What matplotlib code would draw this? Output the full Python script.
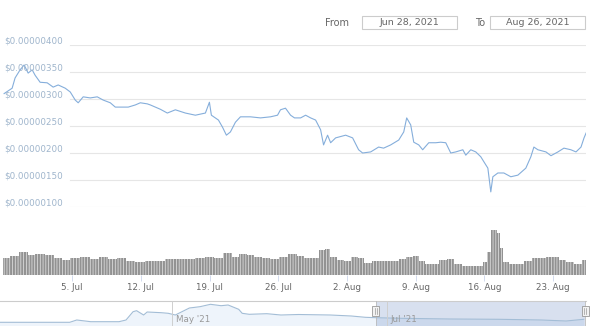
import numpy as np
import pandas as pd
import matplotlib
matplotlib.use("Agg")
import matplotlib.pyplot as plt
import matplotlib.dates as mdates
import matplotlib.transforms as mtransforms
from matplotlib.patches import Rectangle

# ---- data (prices in units of 1e-8 USD, time as days after start) ----
START = pd.Timestamp("2021-06-28")
END = pd.Timestamp("2021-08-26")

price_days = [0.07, 0.89, 1.19, 1.70, 2.11, 2.52, 2.93, 3.23, 3.74, 4.46, 5.07, 5.58,
              6.30, 6.81, 7.32, 7.62, 8.13, 8.85, 9.56, 10.17, 10.89, 11.40, 11.91,
              12.72, 13.44, 13.95, 14.66, 14.97, 15.99, 16.70, 17.52, 18.54, 19.56,
              20.58, 20.99, 21.19, 21.91, 22.32, 22.72, 23.13, 23.64, 24.15, 25.17,
              26.19, 27.21, 27.93, 28.23, 28.74, 29.26, 29.66, 30.28, 30.79, 31.30,
              31.81, 32.32, 32.62, 33.03, 33.34, 33.85, 34.87, 35.58, 36.19, 36.60,
              37.42, 38.23, 38.74, 39.46, 40.28, 40.79, 41.09, 41.50, 41.81, 42.32,
              42.72, 43.34, 44.05, 44.56, 45.07, 45.58, 46.09, 46.81, 47.11, 47.62,
              48.13, 48.64, 49.05, 49.36, 49.66, 49.87, 50.38, 50.99, 51.70, 52.42,
              53.23, 53.74, 54.05, 54.46, 55.28, 55.79, 56.50, 57.11, 57.82, 58.34,
              58.85, 59.16, 59.37]
price = [310, 320, 339, 354, 363, 348, 354, 344, 331, 330, 322, 326,
         320, 313, 298, 293, 304, 302, 304, 298, 293, 285, 285,
         285, 289, 293, 291, 289, 281, 274, 280, 274, 270,
         274, 294, 270, 261, 248, 233, 239, 257, 267, 267,
         265, 267, 270, 280, 283, 270, 265, 265, 270, 265,
         261, 243, 215, 233, 219, 228, 233, 228, 206, 200,
         202, 211, 209, 215, 224, 239, 265, 252, 220, 215,
         206, 219, 219, 220, 219, 200, 202, 206, 196, 206,
         202, 193, 181, 172, 128, 156, 163, 163, 156, 159,
         172, 193, 211, 206, 202, 195, 202, 209, 206, 202,
         211, 228, 237]

volume_days = [0.07, 1.19, 1.91, 2.21, 2.72, 3.74, 4.76, 5.57, 6.29, 7.30,
               8.32, 9.34, 10.16, 11.07, 12.09, 12.91, 13.93, 14.94, 15.96, 16.98,
               18.00, 19.02, 20.04, 21.06, 21.87, 22.89, 23.60, 24.42, 25.13, 25.95,
               26.66, 27.68, 28.49, 29.51, 30.23, 30.94, 31.75, 32.47, 32.98, 33.59,
               34.30, 35.02, 35.83, 36.34, 37.16, 37.87, 38.89, 39.91, 40.62, 41.43,
               41.94, 42.66, 43.27, 43.98, 44.80, 45.51, 46.33, 47.04, 47.75, 48.57,
               49.07, 49.48, 49.79, 50.09, 50.40, 50.70, 51.11, 51.82, 52.64, 53.45,
               54.17, 54.88, 55.69, 56.20, 56.92, 57.73, 58.55, 59.26]
volume = [17, 19, 23, 23, 20, 21, 20, 17, 15, 17,
          18, 16, 18, 16, 17, 14, 13, 14, 14, 16,
          16, 16, 17, 18, 17, 22, 18, 21, 20, 18,
          17, 16, 18, 21, 19, 17, 17, 25, 26, 18,
          15, 14, 18, 17, 12, 14, 14, 14, 16, 18,
          19, 14, 11, 11, 15, 16, 11, 9, 9, 9,
          13, 23, 45, 45, 42, 27, 13, 11, 11, 14,
          17, 17, 18, 18, 15, 13, 11, 15]

nav_dates = ["2021-03-13", "2021-04-02", "2021-04-04", "2021-04-08", "2021-04-16",
             "2021-04-18", "2021-04-20", "2021-04-21", "2021-04-23", "2021-04-24",
             "2021-04-28", "2021-04-30", "2021-05-02", "2021-05-06", "2021-05-09",
             "2021-05-12", "2021-05-15", "2021-05-17", "2021-05-20", "2021-05-21",
             "2021-05-23", "2021-05-28", "2021-06-01", "2021-06-06", "2021-06-15",
             "2021-06-21", "2021-06-25", "2021-06-28", "2021-07-05", "2021-07-19",
             "2021-08-02", "2021-08-14", "2021-08-21", "2021-08-26"]
nav_price = [52, 52, 181, 86, 86, 181, 646, 702, 461, 629,
             590, 556, 461, 853, 926, 1060, 982, 1021, 780, 556,
             500, 534, 461, 489, 461, 405, 332, 310, 276, 237,
             220, 181, 125, 220]

y_ticks = [100, 150, 200, 250, 300, 350, 400]
x_tick_dates = ["2021-07-05", "2021-07-12", "2021-07-19", "2021-07-26",
                "2021-08-02", "2021-08-09", "2021-08-16", "2021-08-23"]
x_tick_labels = ["5. Jul", "12. Jul", "19. Jul", "26. Jul",
                 "2. Aug", "9. Aug", "16. Aug", "23. Aug"]
nav_tick_dates = ["2021-05-01", "2021-07-01"]
nav_tick_labels = ["May '21", "Jul '21"]
range_from = "Jun 28, 2021"
range_to = "Aug 26, 2021"

# ---- layout helpers ----
W, H = 595, 326
plt.rcParams['font.family'] = ['DejaVu Sans']

fig = plt.figure(figsize=(W / 100, H / 100), dpi=100)


def px_rect(l, t, r, b):
    return [l / W, 1 - b / H, (r - l) / W, (b - t) / H]


def to_dates(days):
    return START + pd.to_timedelta(np.asarray(days), unit="D")


x_left = START - pd.Timedelta(hours=1)
x_right = START + pd.Timedelta(days=59.36)

LINE = '#85aedb'
GRID = '#e6e6e6'
YLAB = '#9fb5cc'
TXT = '#666666'

# ---- price panel ----
ax = fig.add_axes(px_rect(3, 45, 586, 207))
ax.plot(to_dates(price_days), price, color=LINE, lw=0.8, solid_joinstyle='round')
ax.set_xlim(x_left, x_right)
ax.set_ylim(100, 400)
ax.axis('off')
lbl_tr = mtransforms.offset_copy(ax.get_yaxis_transform(), fig=fig, y=1.5, units='dots')
for v in y_ticks:
    ax.axhline(v, xmin=0.115, xmax=0.998, color=GRID, lw=0.8, zorder=0)
    ax.text(0.003, v, f"${v * 1e-8:.8f}", transform=lbl_tr, fontsize=6.3,
            color=YLAB, va='baseline', ha='left')

# ---- volume panel ----
plt.rcParams['hatch.linewidth'] = 0.5
axv = fig.add_axes(px_rect(3, 228, 586, 275))
vd = np.asarray(volume_days)
edges = np.concatenate([[0.0], (vd[1:] + vd[:-1]) / 2, [59.36]])
axv.bar(to_dates(edges[:-1]), volume, width=pd.to_timedelta(np.diff(edges), unit="D"),
        align='edge', color='#929292', edgecolor='#e8e8e8', hatch='||||||', linewidth=0)
axv.set_xlim(x_left, x_right)
axv.set_ylim(0, 47)
for s in axv.spines.values():
    s.set_visible(False)
axv.set_yticks([])
axv.set_xticks(pd.to_datetime(x_tick_dates))
axv.set_xticklabels(x_tick_labels, fontsize=6.3, color=TXT)
axv.tick_params(axis='x', length=4, width=0.6, color='#ccd6eb', pad=2)

# ---- navigator ----
axn = fig.add_axes(px_rect(0, 301, 586, 326))
nd = pd.to_datetime(nav_dates)
axn.fill_between(nd, nav_price, -155, color='#eef4fb', lw=0)
axn.plot(nd, nav_price, color='#a3bdd6', lw=0.8)
nav_left = START - pd.Timedelta(days=106.8)
nav_right = START + pd.Timedelta(days=59.66)
axn.set_xlim(nav_left, nav_right)
axn.set_ylim(-155, 1245)
axn.axis('off')
axn.axhline(1245, color='#cccccc', lw=0.8, clip_on=False)
nav_lbl_tr = mtransforms.offset_copy(axn.get_xaxis_transform(), fig=fig, x=4, units='dots')
for d, lab in zip(pd.to_datetime(nav_tick_dates), nav_tick_labels):
    axn.axvline(d, color='#cfcfcf', lw=0.7)
    axn.text(d, 0.28, lab, transform=nav_lbl_tr, fontsize=6.3, color='#999999',
             va='center', ha='left')
# selected range mask
axn.axvspan(START, END + pd.Timedelta(hours=10), color=(102 / 255, 133 / 255, 194 / 255),
            alpha=0.25, lw=0)
axn.axvline(START, color='#bbbbbb', lw=0.6)
axn.axvline(END + pd.Timedelta(hours=10), color='#bbbbbb', lw=0.6)
for d in [START, END + pd.Timedelta(hours=10)]:
    xf = axn.transData.transform((mdates.date2num(d), 0))[0] / W
    fig.patches.append(Rectangle((xf - 3.5 / W, 1 - 316 / H), 7 / W, 10 / H,
                                 transform=fig.transFigure, facecolor='#f2f2f2',
                                 edgecolor='#999999', lw=0.6))
    for dx in (-1, 1):
        fig.lines.append(plt.Line2D([xf + dx / W, xf + dx / W], [1 - 314 / H, 1 - 308 / H],
                                    transform=fig.transFigure, color='#999999', lw=0.5))

# ---- range selector ----
fig.text(325 / W, 1 - 22.5 / H, "From", fontsize=7, color=TXT, va='center', ha='left')
fig.text(475 / W, 1 - 22.5 / H, "To", fontsize=7, color=TXT, va='center', ha='left')
for (l, r), s in zip([(362, 457), (490, 585)], [range_from, range_to]):
    fig.patches.append(Rectangle((l / W, 1 - 28.5 / H), (r - l) / W, 12.5 / H,
                                 transform=fig.transFigure, facecolor='white',
                                 edgecolor='#cccccc', lw=0.8))
    fig.text((l + r) / 2 / W, 1 - 22.5 / H, s, fontsize=6.8, color='#666666',
             va='center', ha='center')

fig.savefig("out.png", dpi=100)
